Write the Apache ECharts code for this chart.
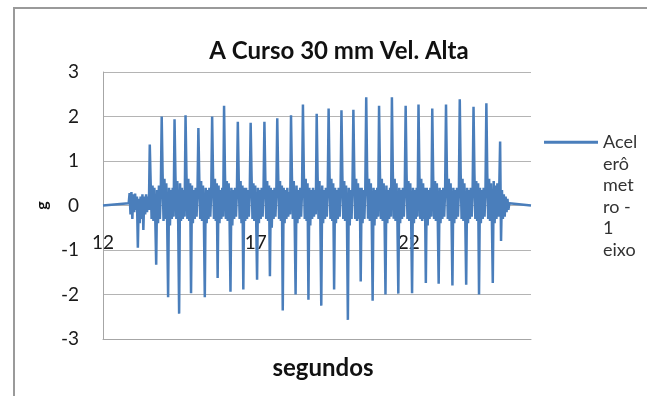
<!DOCTYPE html>
<html>
<head>
<meta charset="utf-8">
<script src="https://cdn.jsdelivr.net/npm/echarts@6/dist/echarts.min.js"></script>
<style>
  html, body { margin: 0; padding: 0; background: #fff; }
  #chart { width: 647px; height: 396px; }
</style>
</head>
<body>
<div id="chart"></div>
<script>
// accelerometer samples (g)
const seriesName = 'Acelerômetro - 1 eixo'
const legendLines = ['Acel', 'erô', 'met', 'ro -', '1', 'eixo']
const sampleStart = 12.84 // s, first recorded sample
const sampleStep = 0.03 // s between samples
const accel = [
  0.05, 0.28, -0.2, 0.3, -0.3, 0.25, -0.15, 0.27, -0.1, 0.2,
  -0.95, 0.15, -0.4, 0.2, -0.3, 0.25, -0.55, 0.2, -0.2, 0.25, -0.15, 0.2, -0.1,
  1.37, 0.5, -0.3, 0.45, -0.35, 0.4, -0.3,
  -1.33, 0.35, -0.4, 0.45, -0.3, 0.3,
  2.0, 0.7, -0.35, 0.6, -0.3, 0.5, -0.4,
  -2.06, 0.4, -0.45, 0.35, -0.3, 0.4, -0.25,
  1.94, 0.65, -0.3, 0.55, -0.4,
  -2.43, 0.5, -0.35, 0.4, -0.3, 0.35, -0.25,
  2.03, 0.7, -0.3, 0.6, -0.35, 0.5,
  -1.97, 0.45, -0.4, 0.35, -0.3, 0.4, -0.25, 0.3,
  1.74, 0.6, -0.3, 0.55, -0.35, 0.45, -0.3,
  -2.06, 0.4, -0.4, 0.35, -0.3, 0.4, -0.25, 0.3,
  2.0, 0.65, -0.3, 0.6, -0.35, 0.5,
  -1.63, 0.45, -0.4, 0.35, -0.3, 0.4, -0.25,
  2.24, 0.7, -0.3, 0.55, -0.35, 0.5, -0.3,
  -1.94, 0.4, -0.45, 0.35, -0.3, 0.4, -0.25, 0.3,
  1.88, 0.6, -0.3, 0.55, -0.4, 0.45,
  -1.89, 0.4, -0.35, 0.4, -0.3, 0.35, -0.25, 0.3,
  1.86, 0.65, -0.3, 0.5, -0.35, 0.45, -0.3,
  -1.67, 0.4, -0.4, 0.35, -0.3, 0.4, -0.25, 0.3,
  1.88, 0.6, -0.3, 0.55, -0.35, 0.45,
  -1.59, 0.4, -0.5, 0.35, -0.3, 0.4, -0.25, 0.3,
  1.96, 0.7, -0.3, 0.55, -0.35, 0.45,
  -2.36, 0.4, -0.4, 0.35, -0.3, 0.4, -0.25, 0.3, -0.2,
  2.03, 0.65, -0.3, 0.55, -0.35,
  -2.0, 0.45, -0.4, 0.35, -0.3, 0.4, -0.25, 0.3,
  2.27, 0.7, -0.3, 0.6, -0.35, 0.5,
  -2.12, 0.4, -0.45, 0.35, -0.3, 0.4, -0.25, 0.35, -0.2,
  2.06, 0.65, -0.3, 0.55, -0.35,
  -2.25, 0.45, -0.4, 0.35, -0.3, 0.4, -0.25, 0.3,
  2.18, 0.7, -0.3, 0.6, -0.35, 0.5,
  -1.89, 0.4, -0.4, 0.35, -0.3, 0.4, -0.25, 0.3,
  2.14, 0.65, -0.3, 0.55, -0.35, 0.45, -0.3,
  -2.57, 0.4, -0.45, 0.35, -0.3, 0.4,
  2.15, 0.7, -0.3, 0.6, -0.35, 0.5, -0.3, 0.4,
  -1.71, 0.4, -0.4, 0.35, -0.3, 0.4,
  2.43, 0.75, -0.3, 0.6, -0.35, 0.5, -0.3,
  -2.14, 0.4, -0.45, 0.35, -0.3, 0.4, -0.25,
  2.24, 0.7, -0.3, 0.6, -0.35, 0.5, -0.3,
  -2.0, 0.45, -0.4, 0.35, -0.3, 0.4, -0.25,
  2.43, 0.75, -0.3, 0.6, -0.35, 0.5, -0.3,
  -1.98, 0.4, -0.4, 0.35, -0.3, 0.4, -0.25, 0.3,
  2.24, 0.7, -0.3, 0.55, -0.35, 0.5, -0.3,
  -1.97, 0.4, -0.4, 0.35, -0.3, 0.4, -0.25,
  2.27, 0.7, -0.3, 0.6, -0.35, 0.5, -0.3, 0.4,
  -1.74, 0.4, -0.45, 0.35, -0.3, 0.4, -0.25,
  2.18, 0.65, -0.3, 0.55, -0.35, 0.5, -0.3,
  -1.76, 0.4, -0.4, 0.35, -0.3, 0.4, -0.25, 0.3,
  2.27, 0.7, -0.3, 0.6, -0.35, 0.5, -0.3,
  -1.8, 0.4, -0.4, 0.35, -0.3, 0.4, -0.25, 0.3,
  2.39, 0.7, -0.3, 0.6, -0.35, 0.5, -0.3,
  -1.78, 0.4, -0.4, 0.35, -0.3, 0.4, -0.25, 0.3,
  2.22, 0.7, -0.3, 0.55, -0.35, 0.5,
  -2.0, 0.4, -0.4, 0.35, -0.3, 0.4, -0.25, 0.3,
  2.3, 0.7, -0.3, 0.6, -0.35, 0.5, -0.3,
  -1.74, 0.55, -0.4, 0.45, -0.3, 0.5, -0.25, 0.35,
  1.44, -0.8, 0.35, -0.3, 0.25, -0.25, 0.2, -0.15, 0.15, -0.1, 0.05
]
const timeRange = [12, 26] // s, recording window (flat at 0 outside the samples)
const yRange = [-3, 3]
const xTickStep = 5

const data = [[timeRange[0], 0]]
accel.forEach(function (v, i) {
  data.push([+(sampleStart + i * sampleStep).toFixed(3), v])
})
data.push([timeRange[1], 0])

const font = 'Lato, "Open Sans", sans-serif'
const blue = '#4a7ebb'
const myChart = echarts.init(document.getElementById('chart'))

const option = {
  animation: false,
  backgroundColor: '#fff',
  title: [
    {
      text: 'A Curso 30 mm Vel. Alta',
      left: 334,
      top: 34,
      textAlign: 'center',
      textStyle: { fontFamily: font, fontSize: 24, fontWeight: 700, color: '#111' },
    },
    {
      text: 'segundos',
      left: 318,
      top: 351,
      textAlign: 'center',
      textStyle: { fontFamily: font, fontSize: 24, fontWeight: 700, color: '#111' },
    },
  ],
  graphic: [
    {
      type: 'rect',
      shape: { x: 14, y: 8, width: 700, height: 500 },
      style: { fill: 'none', stroke: '#9a9a9a', lineWidth: 2 },
      silent: true,
    },
  ],
  legend: {
    orient: 'vertical',
    left: 544,
    top: 24,
    padding: 0,
    itemWidth: 54,
    itemHeight: 3,
    icon: 'rect',
    itemStyle: { color: blue, borderWidth: 0 },
    data: [seriesName],
    formatter: function () {
      return '{sp| }\n' + legendLines.map(function (s) { return '{a|' + s + '}' }).join('\n')
    },
    textStyle: {
      rich: {
        sp: { height: 107.5, lineHeight: 107.5, fontSize: 1 },
        a: { fontFamily: font, fontSize: 18, color: '#333', lineHeight: 21.5, height: 21.5 },
      },
    },
  },
  grid: {
    left: 103,
    right: 116,
    top: 72,
    bottom: 57,
  },
  xAxis: {
    type: 'value',
    min: timeRange[0],
    max: timeRange[1],
    interval: xTickStep,
    axisLine: { onZero: false, lineStyle: { color: '#a6a6a6' } },
    axisTick: { show: false },
    splitLine: { show: false },
    axisLabel: {
      margin: -106,
      showMaxLabel: false,
      fontFamily: font,
      fontSize: 19,
      color: '#1a1a1a',
    },
  },
  yAxis: {
    type: 'value',
    min: yRange[0],
    max: yRange[1],
    interval: 1,
    name: 'g',
    nameLocation: 'middle',
    nameGap: 51,
    nameRotate: 90,
    nameTextStyle: { fontFamily: font, fontSize: 16, fontWeight: 700, color: '#111' },
    axisLine: { show: true, lineStyle: { color: '#a6a6a6' } },
    axisTick: { show: false },
    splitLine: { lineStyle: { color: '#b4b4b4' } },
    axisLabel: {
      margin: 24,
      fontFamily: font,
      fontSize: 19,
      color: '#1a1a1a',
    },
  },
  series: [
    {
      name: seriesName,
      type: 'line',
      data: data,
      symbol: 'none',
      showSymbol: false,
      lineStyle: { color: blue, width: 2.5 },
      itemStyle: { color: blue },
      z: 3,
    },
  ],
}
myChart.setOption(option)
</script>
</body>
</html>
